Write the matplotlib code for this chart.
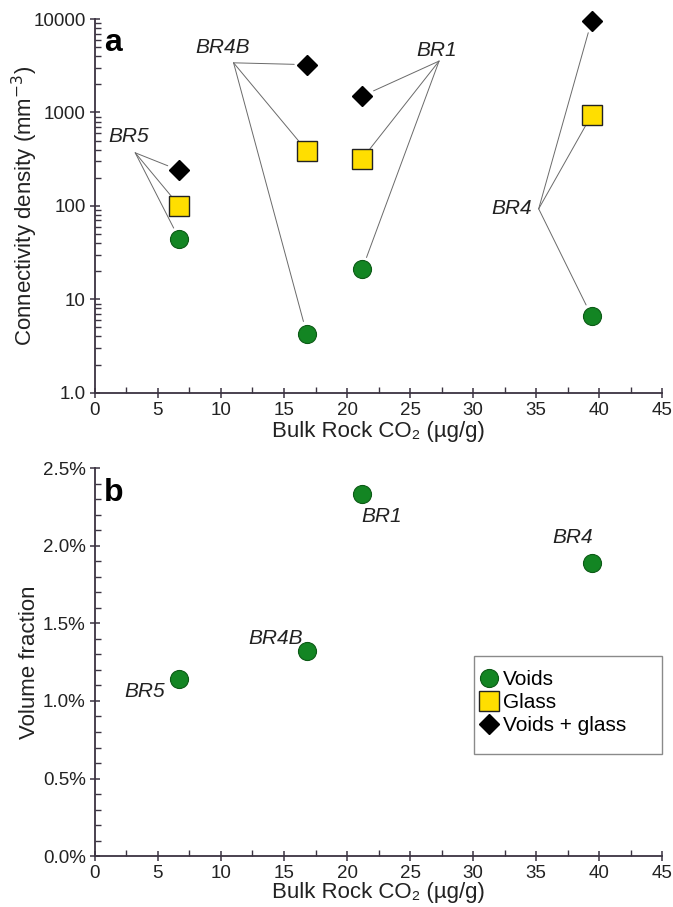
import numpy as np
import matplotlib
matplotlib.use('Agg')
import matplotlib.pyplot as plt
from matplotlib.patches import Rectangle
from matplotlib.ticker import FixedLocator, MultipleLocator, FuncFormatter

# sample data
samples = ['BR5', 'BR4B', 'BR1', 'BR4']
bulk_co2 = [6.7, 16.8, 21.2, 39.4]
conn_voids = [44, 4.3, 21, 6.6]
conn_glass = [100, 390, 320, 940]
conn_both = [240, 3250, 1500, 9600]
vol_fraction = [1.14, 1.32, 2.33, 1.89]   # percent

# label hub positions (data coords) for panel a leader lines
hub_x = [3.2, 11.0, 27.3, 35.2]
hub_y = [370, 3400, 3550, 93]

GREEN = '#138523'
GREEN_EDGE = '#0c5a16'
YELLOW = '#ffde00'
AXC = '#3b3341'
LINEC = '#6a6a6a'
TXT = '#222222'

plt.rcParams['font.family'] = ['Liberation Sans', 'DejaVu Sans']

fig = plt.figure(figsize=(6.73, 9.07), dpi=100)
ax1 = fig.add_axes([0.141, 0.567, 0.843, 0.412])
ax2 = fig.add_axes([0.141, 0.056, 0.843, 0.428])


def style_axes(ax, xlab_y):
    for s in ['top', 'right']:
        ax.spines[s].set_visible(False)
    for s in ['left', 'bottom']:
        ax.spines[s].set_color(AXC)
        ax.spines[s].set_linewidth(1.3)
    ax.tick_params(which='major', direction='inout', length=7, width=1.1,
                   color=AXC, labelsize=13.5, labelcolor=TXT, pad=3)
    ax.tick_params(which='minor', direction='in', length=4, width=1.0, color=AXC)
    ax.set_xlim(0, 45)
    ax.xaxis.set_major_locator(MultipleLocator(5))
    ax.xaxis.set_minor_locator(MultipleLocator(2.5))
    ax.set_xlabel('Bulk Rock CO₂ (µg/g)', fontsize=16, color=TXT)
    ax.xaxis.set_label_coords(0.5, xlab_y)


# ---- panel a ----
style_axes(ax1, -0.075)
ax1.set_yscale('log')
ax1.set_ylim(1, 10000)
ax1.yaxis.set_major_locator(FixedLocator([1, 10, 100, 1000, 10000]))
ax1.yaxis.set_major_formatter(FuncFormatter(lambda v, p: '1.0' if v == 1 else '%d' % v))
ax1.set_ylabel('Connectivity density (mm$^{-3}$)', fontsize=16, color=TXT)
ax1.yaxis.set_label_coords(-0.097, 0.5)

for i in range(len(samples)):
    for yv in [conn_both[i], conn_glass[i], conn_voids[i]]:
        ax1.annotate('', xy=(bulk_co2[i], yv), xytext=(hub_x[i], hub_y[i]),
                     arrowprops=dict(arrowstyle='-', color=LINEC, lw=0.7,
                                     shrinkA=0, shrinkB=9))

ax1.plot(bulk_co2, conn_voids, 'o', ms=13, color=GREEN, mec=GREEN_EDGE, mew=0.8,
         ls='none', zorder=5, clip_on=False)
ax1.plot(bulk_co2, conn_glass, 's', ms=14, color=YELLOW, mec=TXT, mew=1.0,
         ls='none', zorder=5, clip_on=False)
ax1.plot(bulk_co2, conn_both, 'D', ms=10.5, color='black', mec='black',
         ls='none', zorder=5, clip_on=False)

label_off = [(-5, 5, 'center'), (-8, 4, 'center'), (-2, 1, 'center'), (-5, 0, 'right')]
for i, s in enumerate(samples):
    dx, dy, ha = label_off[i]
    va = 'bottom' if ha == 'center' else 'center'
    ax1.annotate(s, xy=(hub_x[i], hub_y[i]), xytext=(dx, dy), textcoords='offset points',
                 ha=ha, va=va, fontsize=15, style='italic', color=TXT)

ax1.text(0.016, 0.975, 'a', transform=ax1.transAxes, fontsize=23, fontweight='bold',
         va='top', ha='left')

# ---- panel b ----
style_axes(ax2, -0.067)
ax2.set_ylim(0, 2.5)
ax2.yaxis.set_major_locator(MultipleLocator(0.5))
ax2.yaxis.set_minor_locator(MultipleLocator(0.1))
ax2.yaxis.set_major_formatter(FuncFormatter(lambda v, p: '%.1f%%' % v))
ax2.set_ylabel('Volume fraction', fontsize=16, color=TXT)
ax2.yaxis.set_label_coords(-0.097, 0.5)

ax2.plot(bulk_co2, vol_fraction, 'o', ms=13, color=GREEN, mec=GREEN_EDGE, mew=0.8,
         ls='none', zorder=5)

b_off = [(-10, -9, 'right', 'center'), (-3, 2, 'right', 'bottom'),
         (14, -9, 'center', 'top'), (-14, 11, 'center', 'bottom')]
for i, s in enumerate(samples):
    dx, dy, ha, va = b_off[i]
    ax2.annotate(s, xy=(bulk_co2[i], vol_fraction[i]), xytext=(dx, dy),
                 textcoords='offset points', ha=ha, va=va, fontsize=15,
                 style='italic', color=TXT)

ax2.text(0.016, 0.975, 'b', transform=ax2.transAxes, fontsize=23, fontweight='bold',
         va='top', ha='left')

# legend with a hand-drawn frame
ax2.add_patch(Rectangle((0.668, 0.263), 0.332, 0.252, transform=ax2.transAxes,
                        fill=False, edgecolor='#8a8a8a', lw=1.0, clip_on=False))
h1, = ax2.plot([], [], 'o', ms=13, color=GREEN, mec=GREEN_EDGE, mew=0.8, ls='none')
h2, = ax2.plot([], [], 's', ms=14, color=YELLOW, mec=TXT, mew=1.0, ls='none')
h3, = ax2.plot([], [], 'D', ms=10.5, color='black', ls='none')
ax2.legend([h1, h2, h3], ['Voids', 'Glass', 'Voids + glass'], loc='upper left',
           bbox_to_anchor=(0.672, 0.49), frameon=False, fontsize=15,
           handlelength=0.8, handletextpad=0.3, labelspacing=0.2, borderpad=0.2,
           borderaxespad=0)

fig.savefig('out.png', dpi=100, facecolor='white')
